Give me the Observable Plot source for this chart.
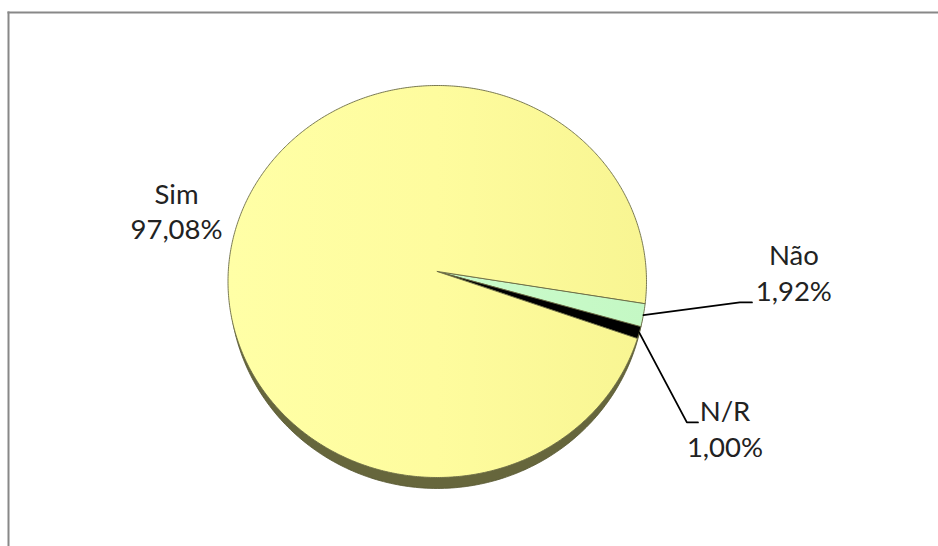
<!DOCTYPE html>
<html>
<head>
<meta charset="utf-8">
<style>html,body{margin:0;padding:0;background:#fff}svg{display:block}</style>
<script src="https://cdn.jsdelivr.net/npm/d3@7"></script>
<script src="https://cdn.jsdelivr.net/npm/@observablehq/plot@0.6"></script>
</head>
<body>
<div id="chart"></div>
<script>
// Data
const categories = ["Não", "N/R", "Sim"];
const shares = [1.92, 1.00, 97.08];

// Styling and annotation layout (in pie radius units)
const fills = ["url(#greenFace)", "#000000", "url(#yellowFace)"];
const labelX = [1.704, 1.375, -1.246];
const labelY = [-0.05, 0.745, -0.364];
const leaderElbowX = [1.446, 1.193];
const leaderEndX = [1.504, 1.246];
const leaderY = [0.107, 0.719];

const deg = Math.PI / 180;
const apexY = -0.051;
const arcs = d3.pie().sort(null).startAngle(6.4 * deg).endAngle(366.4 * deg)(shares);

function rim(a) { return {x: Math.cos(a), y: Math.sin(a)}; }
function slice(arc) {
  const n = Math.max(4, Math.ceil((arc.endAngle - arc.startAngle) / (0.5 * deg)));
  const pts = [{x: 0, y: apexY}];
  for (let i = 0; i <= n; i++) pts.push(rim(arc.startAngle + (arc.endAngle - arc.startAngle) * i / n));
  return pts;
}
const sidePts = d3.range(0, 361, 1).map(d => ({x: 0.992 * Math.cos(d * deg), y: 0.03 + 1.026 * Math.sin(d * deg)}));

const defs = () => {
  const s = d3.create("svg:defs");
  const grad = (id, stops) => {
    const g = s.append("linearGradient").attr("id", id).attr("gradientUnits", "userSpaceOnUse")
      .attr("x1", 227).attr("x2", 646).attr("y1", 0).attr("y2", 0);
    stops.forEach(([o, c]) => g.append("stop").attr("offset", o).attr("stop-color", c));
  };
  grad("yellowFace", [[0, "#ffffa6"], [0.5, "#fefc9e"], [1, "#f8f592"]]);
  grad("greenFace", [[0, "#d2ffd2"], [1, "#c4f8c4"]]);
  return s.node();
};

const marks = [
  defs,
  Plot.frame({anchor: "left", stroke: "#888888", strokeWidth: 2}),
  Plot.frame({anchor: "top", stroke: "#888888", strokeWidth: 2}),
  Plot.line(sidePts, {x: "x", y: "y", fill: "#66663c", stroke: "#55552f", strokeWidth: 0.8, curve: "linear-closed"})
];
arcs.forEach((arc, i) => {
  marks.push(Plot.line(slice(arc), {
    x: "x", y: "y", fill: fills[i], stroke: "#6b6b45", strokeWidth: 0.9, curve: "linear-closed"
  }));
});
[0, 1].forEach(i => {
  const a = rim((arcs[i].startAngle + arcs[i].endAngle) / 2);
  marks.push(Plot.line([a, {x: leaderElbowX[i], y: leaderY[i]}, {x: leaderEndX[i], y: leaderY[i]}], {
    x: "x", y: "y", stroke: "#000000", strokeWidth: 1.8, curve: "linear"
  }));
});
const labels = categories.map((c, i) => ({
  x: labelX[i], y: labelY[i],
  text: c + "\n" + shares[i].toFixed(2).replace(".", ",") + "%"
}));
marks.push(Plot.text(labels, {
  x: "x", y: "y", text: "text", fontFamily: "Lato", fontSize: 27.5, lineHeight: 1.29,
  fill: "#222222", textAnchor: "middle", lineAnchor: "middle"
}));

const chart = Plot.plot({
  width: 938, height: 546,
  marginLeft: 8, marginTop: 12, marginRight: 0, marginBottom: 0,
  style: {background: "#ffffff"},
  x: {domain: [-1, 1], range: [227.5, 646], axis: null},
  y: {domain: [-1, 1], range: [85, 477], axis: null},
  marks
});
document.getElementById("chart").appendChild(chart);
</script>
</body>
</html>
